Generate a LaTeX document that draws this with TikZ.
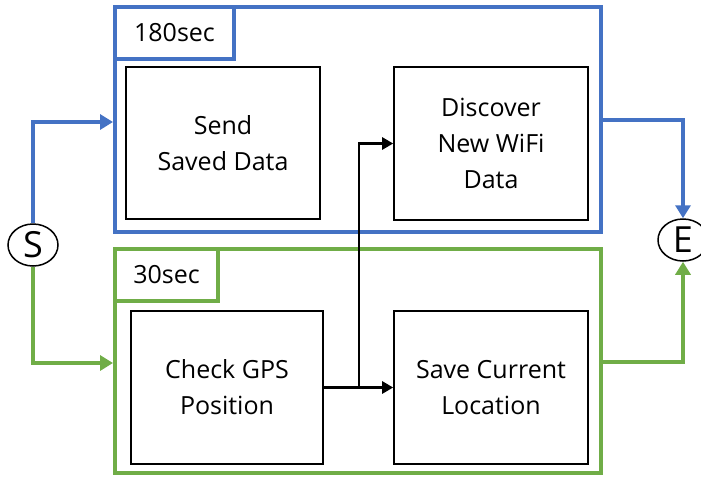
\documentclass[tikz,border=0pt]{standalone}
\usepackage{fontspec}
\setmainfont{Open Sans}
\usetikzlibrary{arrows.meta,shapes.geometric}
\definecolor{flowblue}{HTML}{4472C4}
\definecolor{flowgreen}{HTML}{70AD47}
\begin{document}
\begin{tikzpicture}[x=1pt,y=-1pt,
  stage/.style={draw, line width=4pt, inner sep=0pt},
  tag/.style={draw, line width=4pt, inner sep=0pt,
    font=\fontsize{25}{30}\selectfont},
  task/.style={draw, line width=1.6pt, inner sep=0pt, align=center,
    fill=white, font=\fontsize{25}{36}\selectfont},
  terminal/.style={draw, ellipse, line width=1.5pt, inner sep=0pt,
    minimum width=50pt, minimum height=42pt,
    font=\fontsize{36}{40}\selectfont},
  colorflow/.style={line width=4pt,
    -{Triangle[length=13pt,width=15pt]}},
  dataflow/.style={line width=2.6pt,
    -{Triangle[length=11pt,width=12pt]}}
]
\useasboundingbox (0,0) rectangle (701,477);

% the two periodic stages
\node[stage, draw=flowblue, minimum width=486pt, minimum height=225pt]
  (blue) at (358,119.5) {};
\node[stage, draw=flowgreen, minimum width=486pt, minimum height=224pt]
  (green) at (358,361) {};
\node[tag, draw=flowblue, minimum width=119pt, minimum height=52pt]
  (bluetag) at (174.5,33) {180sec};
\node[tag, draw=flowgreen, minimum width=103pt, minimum height=52pt]
  (greentag) at (166.5,275) {30sec};

% tasks
\node[task, minimum width=194pt, minimum height=152pt]
  (send) at (223,143) {Send\\Saved Data};
\node[task, minimum width=194pt, minimum height=153pt]
  (discover) at (491,143.5) {Discover\\New WiFi\\Data};
\node[task, minimum width=192pt, minimum height=153pt]
  (gps) at (227,387.5) {Check GPS\\Position};
\node[task, minimum width=194pt, minimum height=153pt]
  (save) at (491,387.5) {Save Current\\Location};

% start and end
\node[terminal] (S) at (33,245) {S};
\node[terminal] (E) at (683,240) {E};

% stage entry and exit
\draw[colorflow, draw=flowblue, color=flowblue]
  (S) |- ([yshift=-2.5pt]blue.west);
\draw[colorflow, draw=flowgreen, color=flowgreen]
  (S) |- ([yshift=-2pt]green.west);
\draw[colorflow, draw=flowblue, color=flowblue]
  (blue.east) -| (E);
\draw[colorflow, draw=flowgreen, color=flowgreen]
  ([yshift=-1pt]green.east) -| (E);

% data from the GPS check
\coordinate (split) at (359,387.5);
\draw[line width=2.6pt] (gps.east) -- (split);
\draw[dataflow] (split) -- (save.west);
\draw[dataflow] (split) |- (discover.west);
\end{tikzpicture}
\end{document}
